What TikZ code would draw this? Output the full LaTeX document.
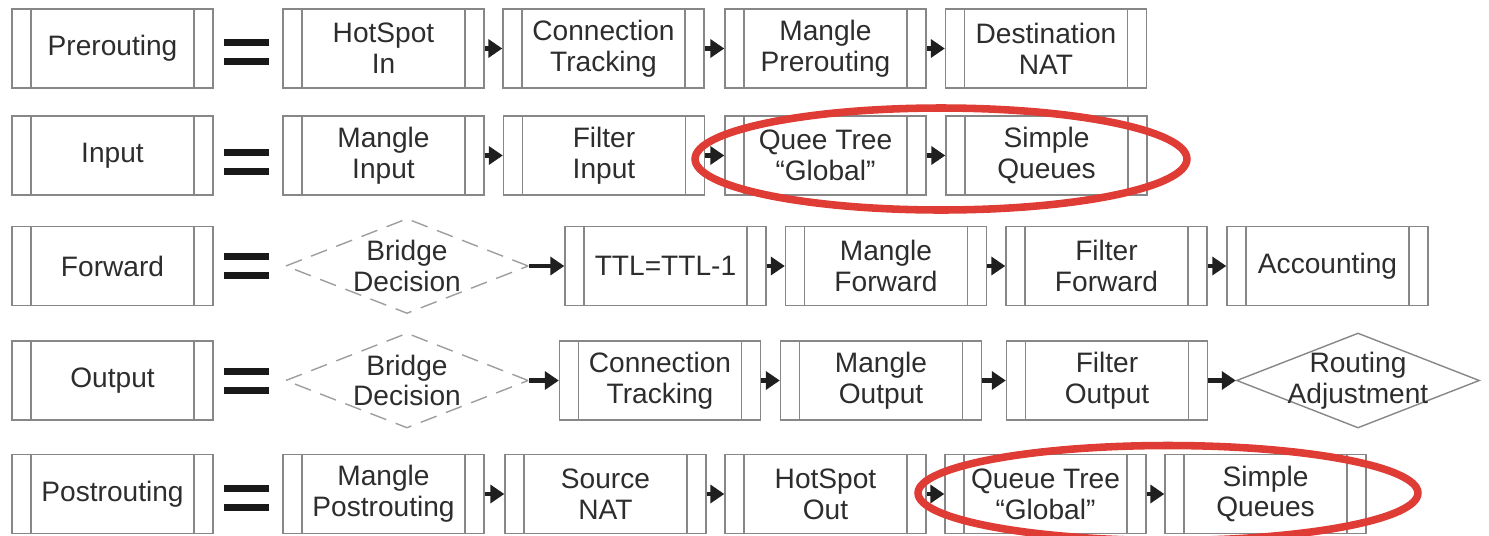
\documentclass[tikz,border=0pt]{standalone}
\usepackage{fontspec}
\setmainfont{Liberation Sans}
\usetikzlibrary{shapes.geometric, arrows.meta}

\definecolor{boxgray}{RGB}{135,135,135}
\definecolor{txtgray}{RGB}{45,45,45}
\definecolor{ringred}{RGB}{222,60,52}

\begin{document}
\begin{tikzpicture}[x=0.02cm, y=-0.02cm,
  font=\fontsize{16}{17.5}\selectfont, text=txtgray,
  stage/.style={draw=boxgray, line width=0.8pt, minimum width=4.02cm, minimum height=1.58cm,
    align=center, inner sep=0pt,
    path picture={\draw[boxgray, line width=0.8pt]
      ([xshift=0.38cm]path picture bounding box.north west) -- ([xshift=0.38cm]path picture bounding box.south west)
      ([xshift=-0.38cm]path picture bounding box.north east) -- ([xshift=-0.38cm]path picture bounding box.south east);}},
  decision/.style={diamond, draw=boxgray, line width=0.8pt, minimum width=4.86cm, minimum height=1.9cm, inner sep=0pt},
  bridge/.style={decision, draw=black!38, dash pattern=on 0.34cm off 0.2cm},
  flow/.style={-{Triangle[length=0.28cm, width=0.36cm]}, line width=2.4pt, draw=black!88},
  ring/.style={draw=ringred, line width=4.3pt}
]
\useasboundingbox (0,0) rectangle (1489,535);

% Prerouting
\node[stage] (pre)   at (112.5,48.5) {Prerouting};
\node[stage] (hsin)  at (383.5,48.5) {HotSpot\\In};
\node[stage] (ctpre) at (603.5,48.5) {Connection\\Tracking};
\node[stage] (mpre)  at (825.5,48.5) {Mangle\\Prerouting};
\node[stage] (dnat)  at (1046,48.5) {Destination\\NAT};
\draw[flow] (hsin) -- (ctpre);
\draw[flow] (ctpre) -- (mpre);
\draw[flow] (mpre) -- (dnat);

% Input
\node[stage] (inp)   at (112.5,155.5) {Input};
\node[stage] (min)   at (383.5,155.5) {Mangle\\Input};
\node[stage] (fin)   at (604,155.5) {Filter\\Input};
\node[stage] (qtin)  at (825.5,155.5) {Quee Tree\\“Global”};
\node[stage] (sqin)  at (1046.5,155.5) {Simple\\Queues};
\draw[flow] (min) -- (fin);
\draw[flow] (fin) -- (qtin);
\draw[flow] (qtin) -- (sqin);

% Forward
\node[stage] (fwd)   at (112.5,266) {Forward};
\node[bridge, label={[align=center]center:Bridge\\Decision}] (bdfwd) at (407,266) {};
\node[stage] (ttl)   at (665.5,266) {TTL=TTL-1};
\node[stage] (mfwd)  at (886,266) {Mangle\\Forward};
\node[stage] (ffwd)  at (1106.5,266) {Filter\\Forward};
\node[stage] (acct)  at (1327.5,266) {Accounting};
\draw[flow] (bdfwd) -- (ttl);
\draw[flow] (ttl) -- (mfwd);
\draw[flow] (mfwd) -- (ffwd);
\draw[flow] (ffwd) -- (acct);

% Output
\node[stage] (outp)  at (112.5,380.5) {Output};
\node[bridge, label={[align=center]center:Bridge\\Decision}] (bdout) at (407,380.5) {};
\node[stage] (ctout) at (660,380.5) {Connection\\Tracking};
\node[stage] (mout)  at (881,380.5) {Mangle\\Output};
\node[stage] (fout)  at (1107,380.5) {Filter\\Output};
\node[decision, label={[align=center]center:Routing\\Adjustment}] (radj) at (1358,380.5) {};
\draw[flow] (bdout) -- (ctout);
\draw[flow] (ctout) -- (mout);
\draw[flow] (mout) -- (fout);
\draw[flow] (fout) -- (radj);

% Postrouting
\node[stage] (post)  at (112.5,494) {Postrouting};
\node[stage] (mpost) at (383.5,494) {Mangle\\Postrouting};
\node[stage] (snat)  at (605.5,494) {Source\\NAT};
\node[stage] (hsout) at (825.5,494) {HotSpot\\Out};
\node[stage] (qtout) at (1045.5,494) {Queue Tree\\“Global”};
\node[stage] (sqout) at (1265.5,494) {Simple\\Queues};
\draw[flow] (mpost) -- (snat);
\draw[flow] (snat) -- (hsout);
\draw[flow] (hsout) -- (qtout);
\draw[flow] (qtout) -- (sqout);

% equals signs
\foreach \y in {51.5,161.5,265.5,380.5,497.5} {
    \draw[line width=0.14cm, black!90] (224,\y-9.5) -- (269,\y-9.5) (224,\y+9.5) -- (269,\y+9.5);
}

% red rings
\draw[ring] (941,159) ellipse [x radius=4.92cm, y radius=1.02cm];
\draw[ring] (1168,493) ellipse [x radius=5.0cm, y radius=0.95cm];

\end{tikzpicture}
\end{document}
